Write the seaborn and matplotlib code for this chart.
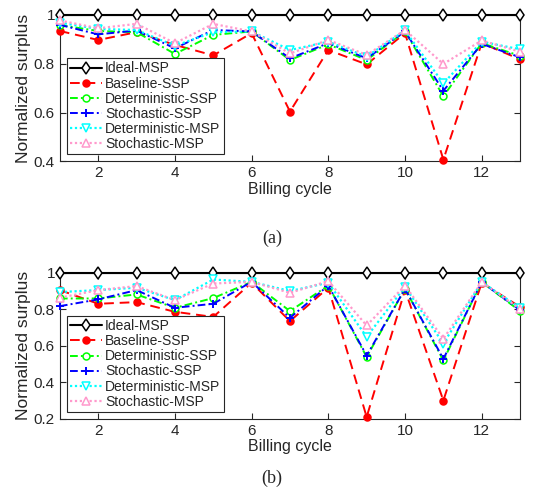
import numpy as np
import pandas as pd
import matplotlib
matplotlib.use("Agg")
import matplotlib.pyplot as plt
import seaborn as sns

cycles = list(range(1, 14))
series_names = ["Ideal-MSP", "Baseline-SSP", "Deterministic-SSP",
                "Stochastic-SSP", "Deterministic-MSP", "Stochastic-MSP"]

# panel (a)
ideal_a = [1.0] * 13
baseline_a = [0.934, 0.897, 0.929, 0.877, 0.834, 0.925, 0.604, 0.856, 0.797, 0.925, 0.407, 0.884, 0.818]
det_ssp_a = [0.958, 0.934, 0.929, 0.840, 0.918, 0.932, 0.815, 0.879, 0.815, 0.932, 0.667, 0.884, 0.832]
sto_ssp_a = [0.959, 0.920, 0.936, 0.863, 0.938, 0.932, 0.822, 0.884, 0.822, 0.932, 0.689, 0.881, 0.826]
det_msp_a = [0.968, 0.942, 0.938, 0.873, 0.929, 0.932, 0.856, 0.890, 0.829, 0.936, 0.719, 0.890, 0.859]
sto_msp_a = [0.977, 0.945, 0.963, 0.884, 0.963, 0.932, 0.842, 0.897, 0.836, 0.938, 0.799, 0.895, 0.849]

# panel (b)
ideal_b = [1.0] * 13
baseline_b = [0.905, 0.830, 0.839, 0.786, 0.758, 0.945, 0.735, 0.918, 0.210, 0.905, 0.300, 0.945, 0.813]
det_ssp_b = [0.859, 0.859, 0.881, 0.808, 0.861, 0.950, 0.790, 0.930, 0.539, 0.912, 0.520, 0.949, 0.790]
sto_ssp_b = [0.817, 0.854, 0.905, 0.808, 0.830, 0.950, 0.753, 0.930, 0.546, 0.912, 0.528, 0.949, 0.795]
det_msp_b = [0.894, 0.905, 0.918, 0.850, 0.963, 0.950, 0.900, 0.945, 0.649, 0.923, 0.612, 0.949, 0.808]
sto_msp_b = [0.863, 0.905, 0.927, 0.850, 0.941, 0.950, 0.890, 0.954, 0.711, 0.930, 0.638, 0.949, 0.802]

# line look for each series (MATLAB-ish)
styles = {
    "Ideal-MSP": dict(color="black", ls="-", marker="d", mfc="white", mec="black", ms=6, lw=1.5),
    "Baseline-SSP": dict(color="red", ls=(0, (5, 3)), marker="o", mfc="red", mec="red", ms=5, lw=1.4),
    "Deterministic-SSP": dict(color="#00ff00", ls=(0, (4, 1.6, 1, 1.6)), marker="o", mfc="white", mec="#00ff00", ms=5, lw=1.4),
    "Stochastic-SSP": dict(color="blue", ls=(0, (4, 1.6, 1, 1.6)), marker="+", mfc="blue", mec="blue", ms=6, lw=1.4, mew=1.4),
    "Deterministic-MSP": dict(color="cyan", ls=(0, (1, 1.2)), marker="v", mfc="white", mec="cyan", ms=5.5, lw=1.6),
    "Stochastic-MSP": dict(color="#ff99cc", ls=(0, (1, 1.2)), marker="^", mfc="white", mec="#ff99cc", ms=5.5, lw=1.6),
}

sns.set_style("ticks")
plt.rcParams["font.family"] = ["Liberation Sans", "DejaVu Sans"]
plt.rcParams["xtick.direction"] = "in"
plt.rcParams["ytick.direction"] = "in"

fig = plt.figure(figsize=(5.44, 4.95), dpi=100)
ax_a = fig.add_axes([0.110, 0.674, 0.846, 0.296])
ax_b = fig.add_axes([0.110, 0.154, 0.846, 0.295])

panels = [
    (ax_a, [ideal_a, baseline_a, det_ssp_a, sto_ssp_a, det_msp_a, sto_msp_a], (0.4, 1.0), [0.4, 0.6, 0.8, 1.0]),
    (ax_b, [ideal_b, baseline_b, det_ssp_b, sto_ssp_b, det_msp_b, sto_msp_b], (0.2, 1.0), [0.2, 0.4, 0.6, 0.8, 1.0]),
]

for ax, vals, ylim, yticks in panels:
    for name, v in zip(series_names, vals):
        st = styles[name]
        df = pd.DataFrame({"cycle": cycles, "value": v})
        sns.lineplot(data=df, x="cycle", y="value", ax=ax, color=st["color"],
                     linestyle=st["ls"], marker=st["marker"], markerfacecolor=st["mfc"],
                     markeredgecolor=st["mec"], markersize=st["ms"],
                     linewidth=st["lw"], markeredgewidth=st.get("mew", 1.1),
                     label=name, clip_on=False, zorder=3)
    ax.set_xlim(1, 13)
    ax.set_ylim(*ylim)
    ax.set_xticks([2, 4, 6, 8, 10, 12])
    ax.set_yticks(yticks)
    ax.set_yticklabels(["1" if t == 1.0 else f"{t:.1f}" for t in yticks])
    ax.tick_params(labelsize=11, top=True, right=True, length=4, width=0.8,
                   colors="#262626", labelcolor="#262626")
    for sp in ax.spines.values():
        sp.set_visible(True)
        sp.set_color("#262626")
        sp.set_linewidth(0.8)
    ax.set_xlabel("Billing cycle", fontsize=11.5, labelpad=1, color="#262626")
    ax.set_ylabel("Normalized surplus", fontsize=12.5, labelpad=2, color="#262626")
    leg = ax.legend(loc="upper left", bbox_to_anchor=(0.015, 0.706), borderaxespad=0,
                    fontsize=10, labelspacing=0.08, borderpad=0.25, handletextpad=0.2,
                    handlelength=2.3, fancybox=False, framealpha=1, edgecolor="#262626")
    leg.get_frame().set_linewidth(0.8)

fig.text(0.5, 0.519, "(a)", ha="center", va="center", fontsize=13, family=["Liberation Serif", "DejaVu Serif"])
fig.text(0.5, 0.034, "(b)", ha="center", va="center", fontsize=13, family=["Liberation Serif", "DejaVu Serif"])

fig.savefig("out.png", dpi=100)
